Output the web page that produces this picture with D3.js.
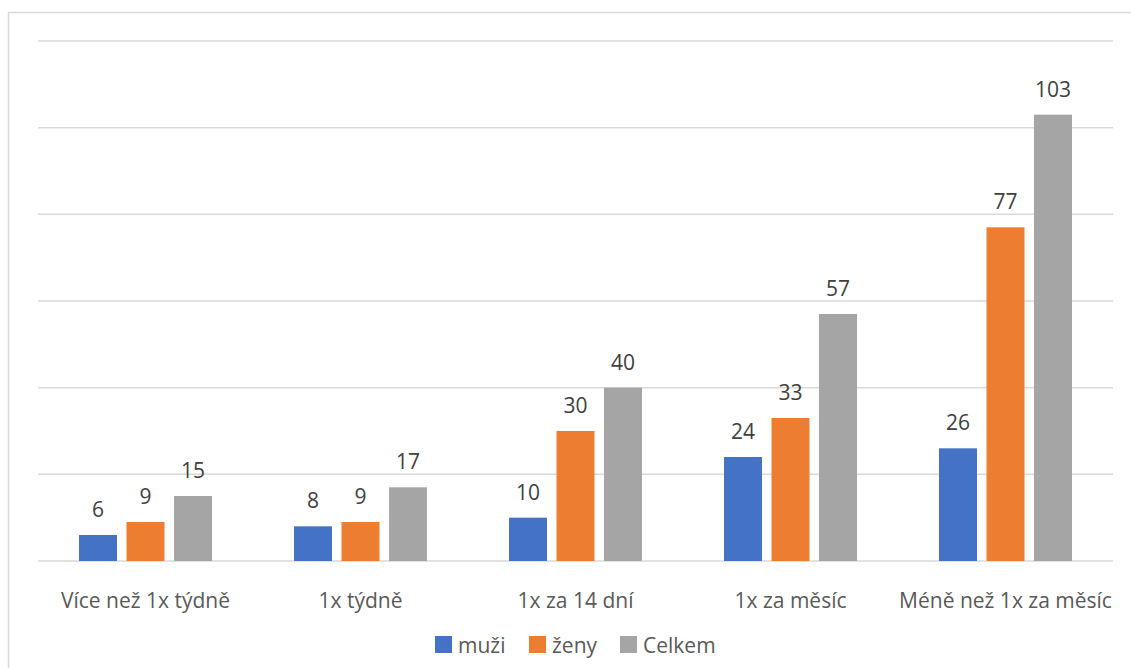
<!DOCTYPE html>
<html>
<head>
<meta charset="utf-8">
<script src="https://cdn.jsdelivr.net/npm/d3@7"></script>
<style>
  html, body { margin: 0; padding: 0; background: #fff; }
  svg { display: block; font-family: "Open Sans", Lato, sans-serif; }
</style>
</head>
<body>
<svg id="chart" width="1131" height="668"></svg>
<script>
// Frequency categories and counts per group
const categories = ["Více než 1x týdně", "1x týdně", "1x za 14 dní", "1x za měsíc", "Méně než 1x za měsíc"];
const seriesNames = ["muži", "ženy", "Celkem"];
const muzi   = [6, 8, 10, 24, 26];
const zeny   = [9, 9, 30, 33, 77];
const celkem = [15, 17, 40, 57, 103];
const yTicks = [0, 20, 40, 60, 80, 100, 120];
const colors = ["#4472C4", "#ED7D31", "#A5A5A5"];

const seriesValues = [muzi, zeny, celkem];
const svg = d3.select("#chart");

// Outer chart frame
svg.append("rect")
  .attr("x", 8.5).attr("y", 12.5)
  .attr("width", 1130).attr("height", 700)
  .attr("fill", "none").attr("stroke", "#d9d9d9").attr("stroke-width", 1.5);

const plot = { left: 38, right: 1113, top: 41, bottom: 561 };

const x = d3.scaleBand().domain(categories).range([plot.left, plot.right]);
const x1 = d3.scaleBand().domain(seriesNames).range([0, x.bandwidth()]).paddingInner(0.2).paddingOuter(0.863);
const y = d3.scaleLinear().domain([0, 120]).range([plot.bottom, plot.top]);

// Horizontal gridlines
svg.append("g").selectAll("line").data(yTicks).join("line")
  .attr("x1", plot.left).attr("x2", plot.right)
  .attr("y1", d => y(d)).attr("y2", d => y(d))
  .attr("stroke", "#d9d9d9").attr("stroke-width", 1.5);

// Bars and value labels
const groups = svg.append("g").selectAll("g").data(categories).join("g")
  .attr("transform", d => `translate(${x(d)},0)`);

seriesNames.forEach((name, si) => {
  groups.append("rect")
    .attr("x", x1(name))
    .attr("width", x1.bandwidth())
    .attr("y", (d, i) => y(seriesValues[si][i]))
    .attr("height", (d, i) => y(0) - y(seriesValues[si][i]))
    .attr("fill", colors[si]);
  groups.append("text")
    .attr("x", x1(name) + x1.bandwidth() / 2)
    .attr("y", (d, i) => y(seriesValues[si][i]) - 18)
    .attr("text-anchor", "middle")
    .attr("font-size", 21)
    .attr("fill", "#404040")
    .text((d, i) => seriesValues[si][i]);
});

// Category axis labels
svg.append("g").selectAll("text").data(categories).join("text")
  .attr("x", d => x(d) + x.bandwidth() / 2)
  .attr("y", 608)
  .attr("text-anchor", "middle")
  .attr("font-size", 21)
  .attr("fill", "#595959")
  .text(d => d);

// Legend
const legendX = [435, 529, 620];
const legend = svg.append("g").selectAll("g").data(seriesNames).join("g")
  .attr("transform", (d, i) => `translate(${legendX[i]},636)`);
legend.append("rect").attr("width", 17).attr("height", 17).attr("fill", (d, i) => colors[i]);
legend.append("text")
  .attr("x", 23).attr("y", 17)
  .attr("font-size", 21).attr("fill", "#595959")
  .text(d => d);
</script>
</body>
</html>
